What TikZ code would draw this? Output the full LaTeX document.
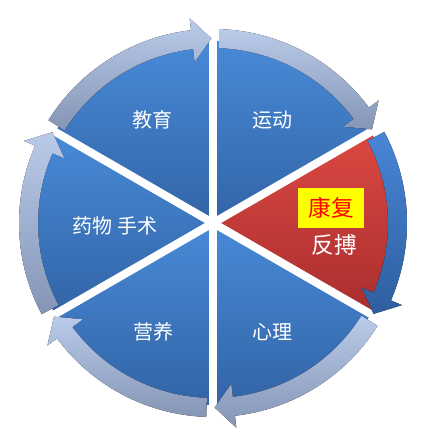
\documentclass[tikz,border=0pt]{standalone}
\usepackage{fontspec}
\newfontfamily\cjk{Noto Sans CJK SC}
\definecolor{secTop}{RGB}{72,138,215}
\definecolor{secBot}{RGB}{50,100,166}
\definecolor{redTop}{RGB}{220,72,66}
\definecolor{redBot}{RGB}{168,46,46}
\definecolor{bandTop}{RGB}{186,203,234}
\definecolor{bandBot}{RGB}{133,149,181}
\definecolor{dkTop}{RGB}{72,134,214}
\definecolor{dkBot}{RGB}{46,94,158}
\definecolor{hiYellow}{RGB}{255,255,0}
\tikzset{
  sector/.style={top color=secTop, bottom color=secBot},
  redsector/.style={top color=redTop, bottom color=redBot},
  band/.style={top color=bandTop, bottom color=bandBot},
  darkband/.style={top color=dkTop, bottom color=dkBot},
  gapline/.style={white, line width=6pt},
  lbl/.style={text=white, font=\cjk\fontsize{15}{18}\selectfont, inner sep=0pt},
  biglbl/.style={font=\cjk\fontsize{17}{20}\selectfont},
}
\newcommand{\mysector}[3]{%
  \fill[#3] (0,0) -- (#1:182) arc[start angle=#1, end angle=#2, radius=182] -- cycle;}
\newcommand{\myarrow}[2]{%
  \pgfmathsetmacro{\ta}{#1-2}%
  \pgfmathsetmacro{\hb}{#1-53.5}%
  \pgfmathsetmacro{\tp}{#1-59.5}%
  \fill[#2] (\ta:194) arc[start angle=\ta, end angle=\hb, radius=194]
    -- (\hb:206) -- (\tp:184.5) -- (\hb:162) -- (\hb:175)
    arc[start angle=\hb, end angle=\ta, radius=175] -- cycle;}
\begin{document}
\begin{tikzpicture}[x=0.75pt,y=0.75pt]
\useasboundingbox (0,0) rectangle (434,432);
\begin{scope}[shift={(213,209)}]
  \mysector{90}{150}{sector}
  \mysector{30}{90}{sector}
  \mysector{-30}{30}{redsector}
  \mysector{-90}{-30}{sector}
  \mysector{-150}{-90}{sector}
  \mysector{150}{210}{sector}
  \coordinate (O) at (0,0);
  \foreach \a/\n in {90/g1,30/g2,-30/g3,-90/g4,-150/g5,150/g6} {
    \coordinate (\n) at (\a:200);
    \draw[gapline] (O) -- (\n);
  }
  \fill[white] (O) circle[radius=5];
  \myarrow{150}{band}
  \myarrow{90}{band}
  \myarrow{30}{darkband}
  \myarrow{-30}{band}
  \myarrow{-90}{band}
  \myarrow{210}{band}
\end{scope}
\node[lbl] (jy) at (152,312) {教育};
\node[lbl] (yd) at (272,312) {运动};
\node[lbl] (yw) at (115,206) {药物 手术};
\node[lbl] (yy) at (153,100) {营养};
\node[lbl] (xl) at (272,100) {心理};
\node[lbl, biglbl, text=red, fill=hiYellow, minimum width=49, minimum height=30, inner sep=0pt] (kf) at (331,224) {康复};
\node[lbl, biglbl] (fb) at (334,187) {反搏};
\end{tikzpicture}
\end{document}
